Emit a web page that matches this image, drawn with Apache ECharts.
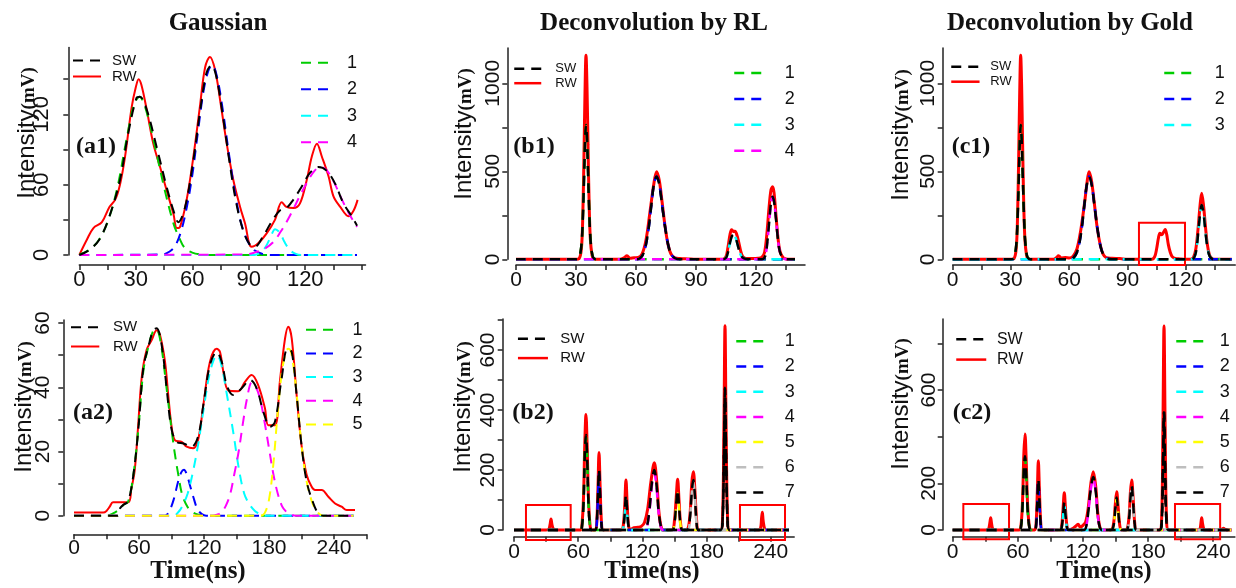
<!DOCTYPE html>
<html><head><meta charset="utf-8">
<script src="https://cdn.jsdelivr.net/npm/echarts@6/dist/echarts.min.js"></script>
<style>html,body{margin:0;padding:0;background:#fff}#c{width:1236px;height:588px}</style>
</head><body><div id="c"></div>
<script>
// ---------------- tick values / labels ----------------
const a1_xTicks=[0,15,30,45,60,75,90,105,120,135,150], a1_xLabels=[0,30,60,90,120];
const a1_yTicks=[0,30,60,90,120,150], a1_yLabels=[0,60,120];
const a2_xTicks=[0,30,60,90,120,150,180,210,240,270], a2_xLabels=[0,60,120,180,240];
const a2_yTicks=[0,10,20,30,40,50,60], a2_yLabels=[0,20,40,60];
const b1_xTicks=[0,15,30,45,60,75,90,105,120,135], b1_xLabels=[0,30,60,90,120];
const b1_yTicks=[0,250,500,750,1000], b1_yLabels=[0,500,1000];
const b2_xTicks=[0,30,60,90,120,150,180,210,240], b2_xLabels=[0,60,120,180,240];
const b2_yTicks=[0,100,200,300,400,500,600,700], b2_yLabels=[0,200,400,600];
const c1_xTicks=[0,15,30,45,60,75,90,105,120,135], c1_xLabels=[0,30,60,90,120];
const c1_yTicks=[0,250,500,750,1000], c1_yLabels=[0,500,1000];
const c2_xTicks=[0,30,60,90,120,150,180,210,240], c2_xLabels=[0,60,120,180,240];
const c2_yTicks=[0,200,400,600,800], c2_yLabels=[0,200,600];

// ---------------- (a1) Gaussian, 4 components ----------------
const a1_RW=[[0,0],[4,13],[7.5,23],[12,28],[16,41],[19,47],[21.6,60],[24.3,84],[27.8,126],[30,143],[31.5,150],[33,145],[35.8,124],[39.3,95],[42.9,75],[46.4,55],[50,35],[51.8,23],[53.5,24],[57,47],[60.6,84],[64,126],[66.8,160],[69.4,169],[72.1,158],[74.8,132],[78.3,95],[81.8,64],[85.4,41],[88,27],[91.5,7],[95,10],[99.5,18.5],[103.9,30],[107.5,45],[110,41],[113.7,40],[117.2,44],[120.8,64],[123.5,84],[126.2,95],[128.8,84],[132.4,67],[135,50],[138.6,41],[143,33],[145.7,38],[147.8,47]];
const a1_SW=[[0,0],[5,4],[10.6,13],[16,33],[21.6,64],[26,104],[30.4,134],[32.2,135],[35.8,124],[41.1,92],[46.4,58],[50,38],[52.6,28],[56.2,41],[60.6,81],[64,121],[67.5,155],[70.2,162],[72.8,152],[76.3,118],[79.9,78],[83.4,44],[87,21],[90.5,9],[93.2,7],[97.6,16],[102,28],[106.5,38],[110,40],[113.6,47],[118,58],[122.5,70],[126.9,75],[131.3,72],[135.8,61],[140.3,44],[144.7,33],[147.5,25]];
const a1_C1=[[0,0.5],[5,4],[10,12],[15,28],[20,56],[25,98],[29,128],[32,135],[35,126],[40,94],[45,58],[50,27],[53,15],[56,6],[60,2],[65,0.3],[70,0],[147.5,0]];
const a1_C2=[[0,0],[44,0.5],[48,3],[51,8],[54,20],[57,40],[60,68],[63,105],[66,140],[68.5,157],[70.5,162],[73,153],[76,126],[79.5,86],[83,50],[86.5,24],[90,10],[93,4],[97,1],[102,0],[147.5,0]];
const a1_C3=[[0,0],[93,0],[96,2],[99,7],[101.5,15],[104,22],[106.5,19],[109,11],[112,4],[115,1],[119,0],[147.5,0]];
const a1_C4=[[0,0],[88,0.5],[93,2],[98,5],[103,11],[107,20],[110,28],[113,37],[117,50],[121,62],[125,72],[128,75],[131,73],[135,63],[139,49],[143,36],[147.5,24]];

// ---------------- (a2) Gaussian, 5 components ----------------
const a2_RW=[[0,1],[27,1],[30,1.5],[33,2.8],[36,4.2],[50,4.2],[53,8.5],[56,14],[59,27],[62.5,43],[67,51.6],[71.7,54.7],[76.3,57.8],[79.4,56.3],[84,48],[87,37.6],[90,28],[93,23.6],[99.4,23],[104,21.5],[110,21],[114.8,24],[119.4,34.5],[125.5,48],[131.7,52],[134.8,51],[137.8,45],[142.5,39],[151.7,38.8],[157.8,41.7],[164,43.8],[170,40.7],[176.3,33.4],[179.4,28.2],[185.5,28.2],[190,41.7],[194.8,55.2],[197.8,58.9],[201,55.2],[205.5,37.6],[210,22],[214.8,12.7],[219.4,9],[222.5,8],[228.6,8],[234.8,5.9],[241,3.8],[247,2.8],[251.7,1.8],[259.4,1.8]];
const a2_SW=[[0,0],[40,0],[42.5,2.3],[46,3.5],[50,4.4],[54.8,12.7],[59.4,27],[64,46],[68.6,52.6],[73.2,57.8],[76.3,58.4],[81,53],[85.5,39.7],[90,27],[94.8,23],[101,22.5],[108.6,21.5],[114.8,25],[119.4,34.5],[125.5,47],[131.7,51],[136.3,48],[141,40.7],[147,37.6],[154.8,39.7],[162.5,42.3],[168.6,39.7],[174.8,32.4],[181,27.7],[185.5,29.3],[191.7,42.8],[197,52],[201,51],[205.5,37.6],[210,22],[214.8,10.6],[221,3.8],[225.5,0.7],[230,0],[258,0]];
const a2_C1=[[0,0],[30,0],[36,0.7],[42,2],[46,3.5],[50,4.4],[54.8,12.7],[59.4,27],[64,45],[68.6,52.6],[73,57.5],[76,58],[80,54],[85,41],[90,27],[93,19.5],[96.3,12.7],[100,6.4],[105.5,2.3],[110,1],[115,0.3],[120,0],[258,0]];
const a2_C2=[[0,0],[84,0],[88,1.5],[92,5],[96,10.5],[99,13.5],[101.5,14.3],[104,13],[107,9.5],[110,6],[114,2],[118,0.5],[122,0],[258,0]];
const a2_C3=[[0,0],[92,0],[96,1],[100,3],[105,7],[110,14],[115,23],[120,34],[125,44],[130,49.5],[132,50],[136,47],[141,38],[147,26],[152,15],[157,7],[162,3.5],[167,1.5],[172,0.5],[176,0],[258,0]];
const a2_C4=[[0,0],[128,0],[132,0.3],[136,1],[140,3],[144,6.5],[148,13],[152,20],[156,29],[160,37],[164,41.5],[168,40],[172,36],[176,29],[180,21],[184,13],[188,7],[192,3],[196,1.2],[200,0.4],[205,0],[258,0]];
const a2_C5=[[0,0],[172,0],[176,0.8],[180,5],[184,16],[188,32],[192,45],[196,51.5],[198,52],[201,50],[205.5,38],[210,22],[214.8,10.6],[220,4],[225,1],[230,0],[258,0]];

// ---------------- (b1) RL deconvolution ----------------
const b1_RW=[[0,0],[30,0],[31.5,3],[32.7,60],[33.4,250],[34,600],[34.5,950],[35,1160],[35.5,980],[36,650],[36.6,300],[37.2,110],[38,25],[38.7,5],[40,0],[52,0],[54,8],[55.5,20],[57,6],[59,9],[61,10],[63,30],[65,110],[67,270],[68.8,420],[70.3,498],[71.6,450],[73,330],[74.5,190],[76,85],[77.5,30],[79.5,8],[82,4],[86,2],[90,0],[103.5,0],[105,15],[106,70],[107,140],[107.8,168],[108.7,158],[109.5,160],[110.4,140],[111.4,95],[112.4,45],[113.4,15],[115,5],[118,5],[121,6],[123,12],[124.3,40],[125.4,140],[126.5,290],[127.5,395],[128.3,412],[129,380],[130,250],[131,120],[132,45],[133.5,10],[135,2],[137,0],[139.5,0]];
const b1_SW=[[0,0],[30,0],[31.5,6],[32.7,80],[33.4,230],[34,450],[34.5,650],[35,763],[35.5,680],[36,500],[36.6,280],[37.2,120],[38,35],[38.7,8],[40,0],[60,0],[62,5],[64,40],[66,150],[67.8,320],[69,430],[70.3,470],[71.7,420],[73.2,295],[74.8,165],[76.3,72],[77.8,25],[79.5,6],[82,0],[103.5,0],[105,8],[106,40],[107,95],[108,132],[108.8,140],[109.7,127],[110.7,88],[111.7,45],[112.7,18],[114,5],[116,0],[123,0],[124.5,15],[125.5,80],[126.5,200],[127.5,320],[128.3,356],[129,330],[130,230],[131,110],[132,40],[133.5,8],[135,0],[139.5,0]];
const b1_C1=[[0,0],[30,0],[31.5,6],[32.7,80],[33.4,230],[34,450],[34.5,650],[35,763],[35.5,680],[36,500],[36.6,280],[37.2,120],[38,35],[38.7,8],[40,0],[139.5,0]];
const b1_C2=[[0,0],[60,0],[62,5],[64,40],[66,150],[67.8,320],[69,430],[70.3,470],[71.7,420],[73.2,295],[74.8,165],[76.3,72],[77.8,25],[79.5,6],[82,0],[139.5,0]];
const b1_C3=[[0,0],[103.5,0],[105,8],[106,40],[107,95],[108,132],[108.8,140],[109.7,127],[110.7,88],[111.7,45],[112.7,18],[114,5],[116,0],[139.5,0]];
const b1_C4=[[0,0],[123,0],[124.5,15],[125.5,80],[126.5,200],[127.5,320],[128.3,356],[129,330],[130,230],[131,110],[132,40],[133.5,8],[135,0],[139.5,0]];

// ---------------- (b2) RL deconvolution ----------------
const b2_RW=[[0,0],[30,0],[32.5,2],[33.7,18],[34.6,37],[35.5,18],[37,2],[39,0],[62,0],[63.5,15],[65,110],[66.2,290],[67.3,385],[68.4,280],[69.6,110],[71,20],[72.5,0],[76,0],[77.3,20],[78.5,140],[79.5,258],[80.5,150],[81.8,25],[83.3,0],[100,0],[102,10],[103.5,80],[104.7,167],[105.9,80],[107.3,10],[109,2],[112,8],[116,9],[119,12],[122,25],[125,70],[128,160],[131.2,224],[133.5,160],[135.5,60],[137.5,12],[139.5,0],[148,2],[150,30],[151.7,110],[153,169],[154.3,100],[155.8,20],[157.5,0],[162,2],[164.5,50],[166.3,160],[167.7,194],[169.2,130],[170.8,30],[172.5,0],[193,0],[195,40],[196.3,350],[197.3,681],[198.3,350],[199.7,40],[201.5,0],[228,0],[230.5,5],[231.5,40],[232.2,59],[233,30],[234.5,2],[236,0],[257,0]];
const b2_SW=[[0,0],[62,0],[63.5,10],[65,90],[66.2,250],[67.3,317],[68.4,240],[69.6,90],[71,15],[72.5,0],[76,0],[77.3,20],[78.5,120],[79.5,200],[80.5,120],[81.8,20],[83.3,0],[100,0],[102,5],[103.5,55],[104.7,117],[105.9,60],[107.3,8],[109,0],[122,0],[124.5,15],[127,80],[129,160],[131.2,200],[133.3,150],[135.3,60],[137.5,10],[139.5,0],[148,0],[150,20],[151.7,90],[153,133],[154.3,80],[155.8,15],[157.5,0],[162,0],[164.5,40],[166.3,130],[167.7,167],[169.2,110],[170.8,20],[172.5,0],[193,0],[195,30],[196.3,250],[197.3,474],[198.3,250],[199.7,30],[201.5,0],[257,0]];
const b2_C1=[[0,0],[62,0],[63.5,10],[65,90],[66.2,250],[67.3,310],[68.4,240],[69.6,90],[71,15],[72.5,0],[257,0]];
const b2_C2=[[0,0],[76,0],[77.3,18],[78.5,110],[79.5,190],[80.5,110],[81.8,18],[83.3,0],[257,0]];
const b2_C3=[[0,0],[100,0],[102,5],[103.5,50],[104.7,100],[105.9,50],[107.3,6],[109,0],[257,0]];
const b2_C4=[[0,0],[122,0],[124.5,12],[127,75],[129,150],[131.2,190],[133.3,140],[135.3,55],[137.5,8],[139.5,0],[257,0]];
const b2_C5=[[0,0],[148,0],[150,18],[151.7,80],[153,122],[154.3,75],[155.8,12],[157.5,0],[257,0]];
const b2_C6=[[0,0],[162,0],[164.5,38],[166.3,125],[167.7,160],[169.2,105],[170.8,18],[172.5,0],[257,0]];
const b2_C7=[[0,0],[193,0],[195,30],[196.3,250],[197.3,470],[198.3,250],[199.7,30],[201.5,0],[257,0]];

// ---------------- (c1) Gold deconvolution ----------------
const c1_RW=[[0,0],[30,0],[31.5,3],[32.7,60],[33.4,250],[34,600],[34.5,950],[35,1160],[35.5,980],[36,650],[36.6,300],[37.2,110],[38,25],[38.7,5],[40,0],[52,0],[53.5,10],[54.5,20],[56,8],[58,10],[60,8],[62,18],[64,60],[66,170],[68,330],[69.2,440],[70.2,498],[71.4,450],[72.9,320],[74.4,180],[76,80],[77.5,28],[79,10],[82,6],[86,4],[90,0],[102.5,0],[104,15],[105,60],[106,125],[106.7,148],[107.7,140],[108.6,155],[109.4,170],[110.2,140],[111,85],[112,40],[113,15],[114.5,5],[117,2],[120,0],[122.5,0],[124,12],[125.2,60],[126.3,170],[127.3,300],[128.2,375],[129.1,310],[130.1,190],[131.1,85],[132.2,25],[133.4,5],[135,0],[143.7,0]];
const c1_SW=[[0,0],[30,0],[31.5,6],[32.7,80],[33.4,230],[34,450],[34.5,650],[35,763],[35.5,680],[36,500],[36.6,280],[37.2,120],[38,35],[38.7,8],[40,0],[61,0],[62,5],[64,40],[66,140],[67.8,310],[69,420],[70.2,470],[71.6,420],[73.1,295],[74.7,160],[76.2,70],[77.7,22],[79.2,5],[82,0],[123,0],[124.3,10],[125.4,50],[126.4,150],[127.4,260],[128.2,308],[129.1,265],[130.1,160],[131.1,70],[132.2,20],[133.4,4],[135,0],[143.7,0]];
const c1_C1=[[0,0],[30,0],[31.5,6],[32.7,80],[33.4,230],[34,450],[34.5,650],[35,763],[35.5,680],[36,500],[36.6,280],[37.2,120],[38,35],[38.7,8],[40,0],[143.7,0]];
const c1_C2=[[0,0],[61,0],[62,5],[64,40],[66,140],[67.8,310],[69,420],[70.2,470],[71.6,420],[73.1,295],[74.7,160],[76.2,70],[77.7,22],[79.2,5],[82,0],[143.7,0]];
const c1_C3=[[0,0],[123,0],[124.3,10],[125.4,50],[126.4,150],[127.4,260],[128.2,305],[129.1,265],[130.1,160],[131.1,70],[132.2,20],[133.4,4],[135,0],[143.7,0]];

// ---------------- (c2) Gold deconvolution ----------------
const c2_RW=[[0,0],[31,0],[33,3],[34.2,30],[35,53],[35.8,28],[37,3],[39,0],[61,0],[62.8,15],[64.3,120],[65.5,320],[66.6,411],[67.7,300],[69,110],[70.5,20],[72,0],[75.5,0],[76.8,25],[78,170],[78.9,297],[79.9,170],[81.2,25],[82.5,0],[98.5,0],[100.3,15],[101.6,85],[102.8,160],[104,85],[105.4,12],[107,2],[110,5],[113,15],[115.5,25],[117.5,12],[120,20],[122.5,35],[125,100],[127.3,200],[129.5,250],[131.7,190],[133.7,70],[135.5,15],[137.5,0],[146,2],[148.3,30],[149.8,110],[151.1,164],[152.4,100],[153.9,20],[155.5,0],[160,2],[162.3,50],[163.7,160],[164.9,214],[166.2,140],[167.7,30],[169.5,0],[190.5,0],[192.5,50],[193.7,450],[194.7,874],[195.7,450],[197,50],[199,0],[225.5,0],[227.8,5],[228.7,30],[229.4,53],[230.2,28],[231.5,3],[233,0],[246,0],[248,4],[249.5,7],[251,3],[253,0],[257,0]];
const c2_SW=[[0,0],[61,0],[62.8,10],[64.3,100],[65.5,250],[66.6,316],[67.7,240],[69,90],[70.5,15],[72,0],[75.5,0],[76.8,18],[78,125],[78.9,217],[79.9,125],[81.2,18],[82.5,0],[98.5,0],[100.3,8],[101.6,60],[102.8,118],[104,60],[105.4,8],[107,0],[121,0],[123,15],[125,80],[127.3,180],[129.5,227],[131.7,170],[133.7,60],[135.5,12],[137.5,0],[146,0],[148.3,20],[149.8,90],[151.1,139],[152.4,85],[153.9,15],[155.5,0],[160,0],[162.3,40],[163.7,135],[164.9,189],[166.2,120],[167.7,25],[169.5,0],[190.5,0],[192.5,30],[193.7,260],[194.7,508],[195.7,260],[197,30],[199,0],[257,0]];
const c2_C1=[[0,0],[61,0],[62.8,10],[64.3,100],[65.5,250],[66.6,310],[67.7,240],[69,90],[70.5,15],[72,0],[257,0]];
const c2_C2=[[0,0],[75.5,0],[76.8,18],[78,120],[78.9,210],[79.9,120],[81.2,18],[82.5,0],[257,0]];
const c2_C3=[[0,0],[98.5,0],[100.3,8],[101.6,55],[102.8,110],[104,55],[105.4,8],[107,0],[257,0]];
const c2_C4=[[0,0],[121,0],[123,15],[125,78],[127.3,175],[129.5,220],[131.7,165],[133.7,58],[135.5,12],[137.5,0],[257,0]];
const c2_C5=[[0,0],[146,0],[148.3,20],[149.8,88],[151.1,135],[152.4,82],[153.9,15],[155.5,0],[257,0]];
const c2_C6=[[0,0],[160,0],[162.3,40],[163.7,130],[164.9,185],[166.2,118],[167.7,25],[169.5,0],[257,0]];
const c2_C7=[[0,0],[190.5,0],[192.5,30],[193.7,260],[194.7,505],[195.7,260],[197,30],[199,0],[257,0]];

// ---------------- highlight boxes [x0, y0, x1, y1] ----------------
const b2_boxes=[[11.2,-33,53,83],[211.3,-33,253.4,83]];
const c1_boxes=[[95.9,-32,119.6,208]];
const c2_boxes=[[9.8,-40,51.9,111],[204.8,-40,246.4,111]];

// ---------------- build ----------------
const SANS='Liberation Sans';
const SERIF='Liberation Serif';
const DASH=[10,7];
const COL={SW:'#000000',RW:'#ff0000','1':'#00cd00','2':'#0000ff','3':'#00ffff','4':'#ff00ff','5':'#ffff00','6':'#bebebe','7':'#000000'};

const panels=[
 {grid:{left:79.3,top:47.5,width:286.2,height:207.5},xMax:152,yMax:177,xOff:10,yOff:11,xM:4,yM:15,fs:22,
  xT:a1_xTicks,xL:a1_xLabels,yT:a1_yTicks,yL:a1_yLabels,sw:a1_SW,rw:a1_RW,comps:[a1_C1,a1_C2,a1_C3,a1_C4],lw:2,rlw:2,boxes:[],
  legL:[72,53,28,14,1,6,15],legR:[300,53.7,32,14,8.5,9,18]},
 {grid:{left:74,top:319.9,width:292.5,height:195.8},xMax:270,yMax:61,xOff:18.6,yOff:10.7,xM:3,yM:10,fs:21,
  xT:a2_xTicks,xL:a2_xLabels,yT:a2_yTicks,yL:a2_yLabels,sw:a2_SW,rw:a2_RW,comps:[a2_C1,a2_C2,a2_C3,a2_C4,a2_C5],lw:2,rlw:2,boxes:[],
  legL:[70,319.7,28.3,14,4.3,8.7,15],legR:[305,320.7,31.7,14,5.7,9.8,18]},
 {grid:{left:516,top:48.1,width:289,height:211.2},xMax:144.5,yMax:1200,xOff:5.7,yOff:8.7,xM:5,yM:4,fs:21,
  xT:b1_xTicks,xL:b1_xLabels,yT:b1_yTicks,yL:b1_yLabels,sw:b1_SW,rw:b1_RW,comps:[b1_C1,b1_C2,b1_C3,b1_C4],lw:2.5,rlw:3,boxes:[],
  legL:[513,62.3,27,12,1.4,9,13],legR:[733,64,30,14,7.9,15.5,18]},
 {grid:{left:514,top:319.1,width:280.2,height:210.9},xMax:262,yMax:703,xOff:6.7,yOff:11.3,xM:5,yM:4,fs:21,
  xT:b2_xTicks,xL:b2_xLabels,yT:b2_yTicks,yL:b2_yLabels,sw:b2_SW,rw:b2_RW,comps:[b2_C1,b2_C2,b2_C3,b2_C4,b2_C5,b2_C6,b2_C7],lw:2.5,rlw:3,boxes:b2_boxes,
  legL:[516.7,331.3,30,14,4.3,7.3,15],legR:[735,332.3,31.7,14,7.2,11.8,18]},
 {grid:{left:952.7,top:48.1,width:282.6,height:211.2},xMax:145.5,yMax:1200,xOff:5.7,yOff:10,xM:5,yM:4,fs:21,
  xT:c1_xTicks,xL:c1_xLabels,yT:c1_yTicks,yL:c1_yLabels,sw:c1_SW,rw:c1_RW,comps:[c1_C1,c1_C2,c1_C3],lw:2.5,rlw:3,boxes:c1_boxes,
  legL:[950,59.7,28.3,14,1,5.7,13],legR:[1163,64,30,14,8,15.5,18]},
 {grid:{left:952.7,top:319.1,width:282.2,height:210.9},xMax:260,yMax:904,xOff:6.7,yOff:10,xM:5,yM:3,fs:21,
  xT:c2_xTicks,xL:c2_xLabels,yT:c2_yTicks,yL:c2_yLabels,sw:c2_SW,rw:c2_RW,comps:[c2_C1,c2_C2,c2_C3,c2_C4,c2_C5,c2_C6,c2_C7],lw:2.5,rlw:3,boxes:c2_boxes,
  legL:[955,331.3,30,14,4.3,5.7,16],legR:[1175,332.3,30,14,7.2,8.5,18]}
];

const grids=[],xAxes=[],yAxes=[],series=[],legends=[];
const axLine={color:'#222',width:1.5};
const plain=function(v){return String(v);};
function mkLegend(spec,names,lw){
  return {orient:'vertical',left:spec[0],top:spec[1],itemWidth:spec[2],itemHeight:spec[3],itemGap:spec[4],padding:0,
    selectedMode:false,data:names,itemStyle:{opacity:0},lineStyle:{width:lw},
    textStyle:{fontSize:spec[6],lineHeight:spec[3],color:'#111',fontFamily:SANS,padding:[0,0,0,spec[5]]}};
}
panels.forEach((p,i)=>{
  grids.push(Object.assign({outerBoundsMode:'none',containLabel:false},p.grid));
  xAxes.push({type:'value',gridIndex:i,min:0,max:p.xMax,position:'bottom',offset:p.xOff,
    axisLine:{show:true,onZero:false,lineStyle:axLine},
    axisTick:{show:true,length:5,customValues:p.xT,lineStyle:axLine},
    axisLabel:{customValues:p.xL,formatter:plain,margin:p.xM,fontSize:p.fs,lineHeight:p.fs,color:'#111',fontFamily:SANS},
    splitLine:{show:false}});
  yAxes.push({type:'value',gridIndex:i,min:0,max:p.yMax,position:'left',offset:p.yOff,
    axisLine:{show:true,onZero:false,lineStyle:axLine},
    axisTick:{show:true,length:5,customValues:p.yT,lineStyle:axLine},
    axisLabel:{customValues:p.yL,formatter:plain,rotate:90,margin:p.yM,fontSize:p.fs,lineHeight:p.fs,color:'#111',fontFamily:SANS},
    splitLine:{show:false}});
  const base={type:'line',xAxisIndex:i,yAxisIndex:i,symbol:'none',smooth:0.35,clip:false,silent:true,animation:false};
  series.push(Object.assign({},base,{name:'RW',data:p.rw,lineStyle:{color:COL.RW,width:p.rlw,type:'solid'},itemStyle:{color:COL.RW}}));
  const compNames=[];
  p.comps.forEach((d,k)=>{
    const nm=String(k+1); compNames.push(nm);
    series.push(Object.assign({},base,{name:nm,data:d,lineStyle:{color:COL[nm],width:p.lw,type:DASH},itemStyle:{color:COL[nm]}}));
  });
  series.push(Object.assign({},base,{name:'SW',data:p.sw,lineStyle:{color:COL.SW,width:p.lw,type:DASH},itemStyle:{color:COL.SW}}));
  if(p.boxes.length){
    series.push({type:'custom',name:'box',xAxisIndex:i,yAxisIndex:i,silent:true,animation:false,clip:false,data:p.boxes,
      encode:{x:[0,2],y:[1,3]},
      renderItem:function(params,api){
        const a=api.coord([api.value(0),api.value(3)]);
        const b=api.coord([api.value(2),api.value(1)]);
        return {type:'rect',shape:{x:a[0],y:a[1],width:b[0]-a[0],height:b[1]-a[1]},style:{fill:'none',stroke:'#ff0000',lineWidth:2}};
      }});
  }
  legends.push(mkLegend(p.legL,['SW','RW'],p.lw));
  legends.push(mkLegend(p.legR,compNames,p.lw));
});

function txt(x,y,text,font,extra){
  return Object.assign({type:'text',x:x,y:y,silent:true,style:{text:text,font:font,fill:'#111',textAlign:'center',textVerticalAlign:'middle',align:'center',verticalAlign:'middle'}},extra||{});
}
function ylab(x,y){
  return {type:'text',x:x,y:y,rotation:Math.PI/2,silent:true,style:{text:'{a|Intensity}{b|(mV)}',align:'center',verticalAlign:'middle',textAlign:'center',textVerticalAlign:'middle',
    rich:{a:{fontSize:24,fontFamily:SANS,fill:'#111',verticalAlign:'bottom',lineHeight:26},
          b:{fontSize:19,fontFamily:SERIF,fontWeight:'bold',fill:'#111',verticalAlign:'bottom',lineHeight:26}}}};
}
const TF='bold 25px "Liberation Serif", serif';
const PF='bold 24px "Liberation Serif", serif';
const graphics=[
  txt(218,24,'Gaussian',TF), txt(654,24,'Deconvolution by RL',TF), txt(1070,24,'Deconvolution by Gold',TF),
  txt(96,147,'(a1)',PF), txt(93,413,'(a2)',PF), txt(534,147,'(b1)',PF), txt(533,413,'(b2)',PF), txt(971,147,'(c1)',PF), txt(972,413,'(c2)',PF),
  txt(198,572,'Time(ns)',TF), txt(652,572,'Time(ns)',TF), txt(1104,572,'Time(ns)',TF),
  ylab(26,133), ylab(23,407), ylab(463,134), ylab(462,407), ylab(900,135), ylab(900,404)
];

const chart=echarts.init(document.getElementById('c'),null,{renderer:'canvas',width:1236,height:588});
chart.setOption({backgroundColor:'#ffffff',animation:false,textStyle:{fontFamily:SANS},
  grid:grids,xAxis:xAxes,yAxis:yAxes,series:series,legend:legends,graphic:{elements:graphics}});
</script></body></html>
